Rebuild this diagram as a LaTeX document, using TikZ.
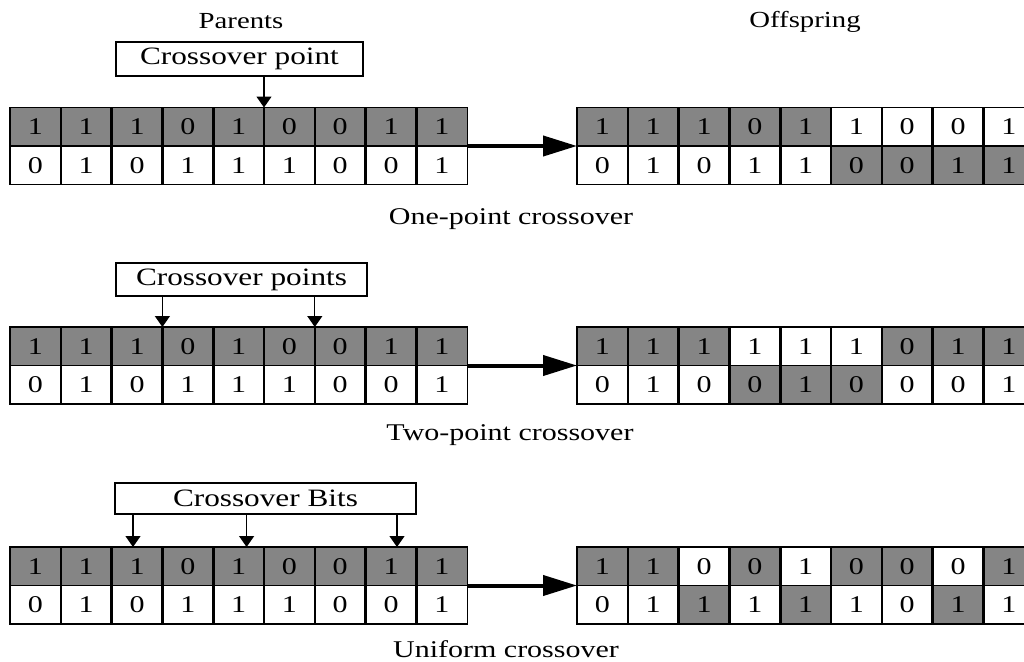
\documentclass[tikz,border=0pt]{standalone}
\usepackage{fontspec}
\setmainfont{Liberation Serif}[FakeStretch=1.25]
\usetikzlibrary{arrows.meta}
\definecolor{cellgray}{RGB}{133,133,133}
\begin{document}
\begin{tikzpicture}[x=1pt,y=-1pt,
  cell/.style={draw=black, line width=1.2pt, minimum width=50.8pt, minimum height=38.5pt,
    inner sep=0pt, outer sep=0pt, anchor=north west, font=\fontsize{24}{24}\selectfont},
  g/.style={cell, fill=cellgray},
  w/.style={cell, fill=white},
  divider/.style={line width=2.6pt, black},
  bigarrow/.style={line width=4pt, -{Triangle[length=34pt,width=20pt]}},
  ptr/.style={line width=1.3pt, -{Triangle[length=11pt,width=15pt]}},
  labelbox/.style={draw, line width=1.2pt, fill=white, inner sep=0pt, font=\fontsize{25}{25}\selectfont},
  head/.style={font=\fontsize{23}{23}\selectfont},
  caption/.style={font=\fontsize{24}{24}\selectfont}
]
\useasboundingbox (0,0) rectangle (1024,661);

% parents (same in all three sets)
\foreach \s/\tp in {1/107.5, 2/327, 3/547}{
  \foreach \val [count=\i] in {1,1,1,0,1,0,0,1,1}{
    \node[g] (pt\s-\i) at ({10+(\i-1)*50.8}, \tp) {\val};
  }
  \foreach \val [count=\i] in {0,1,0,1,1,1,0,0,1}{
    \node[w] (pb\s-\i) at ({10+(\i-1)*50.8}, \tp+38.5) {\val};
  }
}

% offspring, set 1
\foreach \val/\cl [count=\i] in {1/g,1/g,1/g,0/g,1/g,1/w,0/w,0/w,1/w}{
  \node[\cl] (ot1-\i) at ({577+(\i-1)*50.8}, 107.5) {\val};
}
\foreach \val/\cl [count=\i] in {0/w,1/w,0/w,1/w,1/w,0/g,0/g,1/g,1/g}{
  \node[\cl] (ob1-\i) at ({577+(\i-1)*50.8}, 146) {\val};
}
% offspring, set 2
\foreach \val/\cl [count=\i] in {1/g,1/g,1/g,1/w,1/w,1/w,0/g,1/g,1/g}{
  \node[\cl] (ot2-\i) at ({577+(\i-1)*50.8}, 327) {\val};
}
\foreach \val/\cl [count=\i] in {0/w,1/w,0/w,0/g,1/g,0/g,0/w,0/w,1/w}{
  \node[\cl] (ob2-\i) at ({577+(\i-1)*50.8}, 365.5) {\val};
}
% offspring, set 3
\foreach \val/\cl [count=\i] in {1/g,1/g,0/w,0/g,1/w,0/g,0/g,0/w,1/g}{
  \node[\cl] (ot3-\i) at ({577+(\i-1)*50.8}, 547) {\val};
}
\foreach \val/\cl [count=\i] in {0/w,1/w,1/g,1/w,1/g,1/w,0/w,1/g,1/w}{
  \node[\cl] (ob3-\i) at ({577+(\i-1)*50.8}, 585.5) {\val};
}

% thick dividers between cells
\foreach \s in {1,2,3}{
  \foreach \i in {1,...,8}{
    \draw[divider] (pt\s-\i.north east) -- (pb\s-\i.south east);
    \draw[divider] (ot\s-\i.north east) -- (ob\s-\i.south east);
  }
}

% big arrows parents -> offspring
\foreach \s in {1,2,3}{
  \draw[bigarrow] (pt\s-9.south east) -- (ot\s-1.south west);
}

% headings
\node[head] (parents) at (241,21) {Parents};
\node[head] (offspring) at (805,22) {Offspring};

% set 1
\node[labelbox, minimum width=247pt, minimum height=34pt] (b1) at (239.5,59) {Crossover point};
\coordinate (c1) at (pt1-5.north east);
\draw[ptr] (c1 |- b1.south) -- (c1);
\node[caption] (cap1) at (511,219) {One-point crossover};

% set 2
\node[labelbox, minimum width=251pt, minimum height=33pt] (b2) at (241.5,279.5) {Crossover points};
\coordinate (c2a) at (pt2-3.north east);
\coordinate (c2b) at (pt2-6.north east);
\draw[ptr] (c2a |- b2.south) -- (c2a);
\draw[ptr] (c2b |- b2.south) -- (c2b);
\node[caption] (cap2) at (510,435) {Two-point crossover};

% set 3
\node[labelbox, minimum width=301pt, minimum height=31pt] (b3) at (265.5,498.5) {Crossover Bits};
\coordinate (c3a) at ([xshift=-4pt]pt3-3.north);
\coordinate (c3b) at ([xshift=8pt]pt3-5.north);
\coordinate (c3c) at ([xshift=6pt]pt3-8.north);
\draw[ptr] (c3a |- b3.south) -- (c3a);
\draw[ptr] (c3b |- b3.south) -- (c3b);
\draw[ptr] (c3c |- b3.south) -- (c3c);
\node[caption, anchor=base, inner sep=0pt] (cap3) at (506,657) {Uniform crossover};
\end{tikzpicture}
\end{document}
